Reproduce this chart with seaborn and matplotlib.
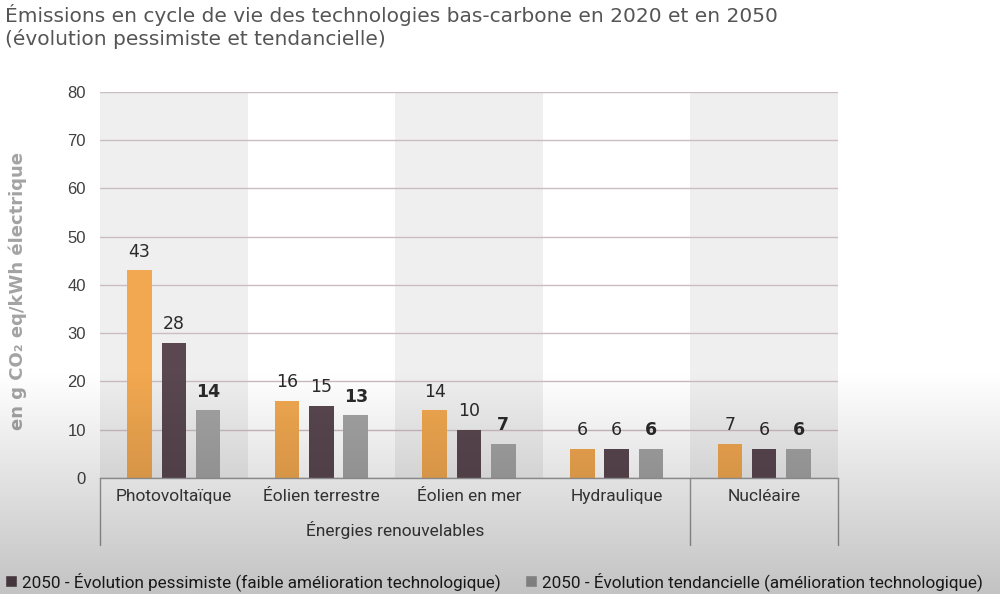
import numpy as np
import pandas as pd
import matplotlib
matplotlib.use("Agg")
import matplotlib.pyplot as plt
import matplotlib.transforms as mtransforms
from matplotlib.patches import Patch
import seaborn as sns

# ---------------- data ----------------
categories = ["Photovoltaïque", "Éolien terrestre", "Éolien en mer", "Hydraulique", "Nucléaire"]
series = ["2020",
          "2050 - Évolution pessimiste (faible amélioration technologique)",
          "2050 - Évolution tendancielle (amélioration technologique)"]
values_2020 = [43, 16, 14, 6, 7]
values_pessimiste = [28, 15, 10, 6, 6]
values_tendanciel = [14, 13, 7, 6, 6]
group_label = "Énergies renouvelables"
y_ticks = [0, 10, 20, 30, 40, 50, 60, 70, 80]
title = ("Émissions en cycle de vie des technologies bas-carbone en 2020 et en 2050\n"
         "(évolution pessimiste et tendancielle)")
y_label = "en g CO₂ eq/kWh électrique"

colors = ["#f2a850", "#5a4750", "#a4a4a4"]

df = pd.DataFrame({
    "cat": categories * 3,
    "serie": [series[0]] * 5 + [series[1]] * 5 + [series[2]] * 5,
    "val": values_2020 + values_pessimiste + values_tendanciel,
})

sns.set_theme(style="white")
plt.rcParams["font.family"] = ["DejaVu Sans"]

narrow = ["Roboto", "DejaVu Sans"]

fig = plt.figure(figsize=(10, 5.94), dpi=100)
fig.patch.set_facecolor("white")
ax = fig.add_axes([0.1, 0.1953, 0.738, 0.650])
ax.set_facecolor("white")

for i in range(len(categories)):
    if i % 2 == 0:
        ax.axvspan(i - 0.5, i + 0.5, color="#efefef", zorder=0, lw=0)

sns.barplot(data=df, x="cat", y="val", hue="serie", order=categories,
            hue_order=series, palette=colors, saturation=1,
            width=0.697, gap=0.285, linewidth=0, ax=ax, legend=False,
            errorbar=None)

for j, cont in enumerate(ax.containers):
    ax.bar_label(cont, labels=[f"{v:.0f}" for v in cont.datavalues],
                 padding=7, fontsize=12.5, color="#2a2a2a",
                 fontweight="bold" if j == 2 else "normal")

ax.set_xlim(-0.5, len(categories) - 0.5)
ax.set_ylim(0, 80)
ax.set_yticks(y_ticks)
ax.set_yticklabels([str(t) for t in y_ticks], fontsize=12,
                   color="#404040", family=["Liberation Sans", "DejaVu Sans"])
ax.yaxis.grid(True, color="#cbbcc0", lw=1)
ax.xaxis.grid(False)
ax.set_axisbelow(True)
for s in ["left", "top", "right"]:
    ax.spines[s].set_visible(False)
ax.spines["bottom"].set_color("#9a9a9a")
ax.spines["bottom"].set_linewidth(1)

ax.set_xticks(range(len(categories)))
ax.set_xticklabels(categories, fontsize=12.5, color="#3a3a3a", family=narrow)
ax.tick_params(axis="both", length=0)
ax.tick_params(axis="x", pad=8)
ax.tick_params(axis="y", pad=10)
ax.set_xlabel("")
ax.set_ylabel("")

trans = mtransforms.blended_transform_factory(ax.transData, ax.transAxes)
for xv in [-0.5, 3.5, len(categories) - 0.5]:
    ax.plot([xv, xv], [0, -0.174], transform=trans, clip_on=False,
            color="#9a9a9a", lw=1)
ax.text(1.5, -0.135, group_label, transform=trans, ha="center", va="center",
        fontsize=12.5, color="#3a3a3a", family=narrow)

fig.text(0.018, 0.51, y_label, rotation=90, ha="center", va="center",
         fontsize=13, fontweight="bold", color="#a3a3a3")

fig.text(0.005, 0.993, title, ha="left", va="top", fontsize=14.5,
         color="#555555", linespacing=1.15)

handles = [Patch(facecolor=colors[1]), Patch(facecolor=colors[2])]
fig.legend(handles, series[1:], loc="lower left", bbox_to_anchor=(-0.01, -0.02),
           ncol=2, frameon=False, handlelength=0.7, handleheight=0.7,
           handletextpad=0.3, columnspacing=1.4,
           prop={"family": narrow, "size": 12.3}, labelcolor="#202020")

# screen-like grey shading towards the bottom
h = 594
rows = np.arange(h)
alpha = np.clip((rows - 370) / (h - 370), 0, 1) * 0.24
ov_arr = np.zeros((h, 2, 4))
ov_arr[:, :, 3] = alpha[:, None]
ov = fig.add_axes([0, 0, 1, 1], zorder=10)
ov.imshow(ov_arr, aspect="auto", extent=[0, 1, 0, 1], interpolation="bilinear")
ov.axis("off")

fig.savefig("out.png", dpi=100)
